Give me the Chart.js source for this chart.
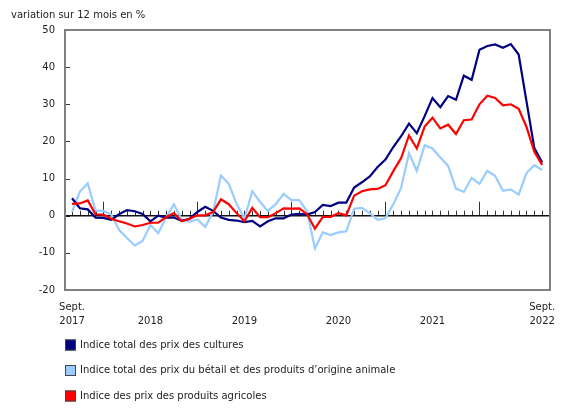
<!DOCTYPE html>
<html>
<head>
<meta charset="utf-8">
<script src="https://cdn.jsdelivr.net/npm/chart.js@4"></script>
<style>
  body { margin: 0; background: #fff; }
  canvas { display: block; }
</style>
</head>
<body>
<canvas id="myChart" width="580" height="410"></canvas>
<script>
// monthly, Sept. 2017 -> Sept. 2022 (61 months)
const startYear = 2017
const startMonth = 8 // september, 0-based

const cultures = [4.7, 2.0, 1.7, -0.5, -0.6, -1.1, 0.4, 1.5, 1.2, 0.5, -1.5, 0.0, -0.5,
  -0.5, -1.4, -0.8, 1.0, 2.4, 1.3, -0.5, -1.1, -1.3, -1.7, -1.4, -2.9, -1.5, -0.7, -0.7,
  0.3, 0.5, 0.3, 1.0, 2.9, 2.6, 3.5, 3.5, 7.6, 9.0, 10.6, 13.1, 15.1, 18.5, 21.4, 24.8,
  22.2, 26.8, 31.7, 29.2, 32.2, 31.2, 37.7, 36.6, 44.7, 45.7, 46.1, 45.2, 46.2, 43.4,
  30.8, 18.2, 14.3]

const livestock = [1.0, 6.5, 8.7, 1.3, 1.3, 0.3, -3.8, -6.0, -8.0, -6.8, -2.5, -4.7, -0.5,
  3.1, -1.1, -1.6, -1.0, -3.0, 1.0, 10.8, 8.6, 3.2, -0.8, 6.6, 3.7, 1.3, 3.1, 5.9, 4.2,
  4.2, 1.2, -8.8, -4.5, -5.2, -4.5, -4.2, 1.9, 2.1, 0.7, -1.1, -0.7, 3.1, 7.5, 16.8, 12.1,
  19.0, 18.1, 15.7, 13.4, 7.3, 6.4, 10.2, 8.6, 12.1, 10.7, 6.7, 7.1, 5.7, 11.5, 13.6, 12.3]

const agricultural = [3.2, 3.3, 4.1, 0.4, 0.3, -0.8, -1.5, -2.1, -2.9, -2.5, -1.9, -1.9,
  -0.4, 0.7, -1.5, -0.8, 0.1, 0.1, 1.0, 4.4, 3.1, 0.7, -1.5, 2.1, -0.4, -0.4, 0.7, 2.0,
  1.9, 2.0, 0.4, -3.5, -0.3, -0.3, 0.7, 0.1, 5.4, 6.6, 7.1, 7.2, 8.2, 12.0, 15.5, 21.6,
  18.1, 24.0, 26.4, 23.5, 24.5, 22.0, 25.7, 25.9, 30.0, 32.3, 31.7, 29.7, 30.0, 28.8,
  23.9, 17.2, 13.7]

const seriesNames = [
  'Indice total des prix des cultures',
  'Indice total des prix du bétail et des produits d’origine animale',
  'Indice des prix des produits agricoles'
]
const seriesColors = ['#000080', '#99ccff', '#ff0000']

// x tick labels: month index -> text lines
const xTickIndex = [0, 10, 22, 34, 46, 60]
const xTickText = [['Sept.', '2017'], ['', '2018'], ['', '2019'], ['', '2020'], ['', '2021'], ['Sept.', '2022']]

const yTitle = 'variation sur 12 mois en %'

const font = '10px "DejaVu Sans", Verdana, sans-serif'
const textColor = '#222'

function toPoints(arr) {
  return arr.map((v, i) => ({ x: i, y: v }))
}

// frame, zero line and monthly ticks
const decorations = {
  id: 'decorations',
  beforeDatasetsDraw(chart) {
    const { ctx, chartArea: a, scales: { x, y } } = chart
    const y0 = y.getPixelForValue(0)
    ctx.save()
    ctx.strokeStyle = '#333'
    ctx.lineWidth = 1
    for (let i = 0; i < cultures.length; i++) {
      const px = Math.round(x.getPixelForValue(i)) + 0.5
      const month = (startMonth + i) % 12
      const h = month === 0 ? 14 : 5
      ctx.beginPath()
      ctx.moveTo(px, y0)
      ctx.lineTo(px, y0 - h)
      ctx.stroke()
    }
    // inward y ticks
    y.ticks.forEach(t => {
      const py = Math.round(y.getPixelForValue(t.value)) + 0.5
      ctx.beginPath()
      ctx.moveTo(a.left, py)
      ctx.lineTo(a.left + 5, py)
      ctx.stroke()
    })
    // zero line
    ctx.strokeStyle = '#111'
    ctx.lineWidth = 1.5
    ctx.beginPath()
    ctx.moveTo(a.left, y0)
    ctx.lineTo(a.right, y0)
    ctx.stroke()
    // frame
    ctx.strokeStyle = '#808080'
    ctx.lineWidth = 2
    ctx.strokeRect(a.left, a.top, a.right - a.left, a.bottom - a.top)
    ctx.restore()
  },
  afterDraw(chart) {
    const { ctx } = chart
    ctx.save()
    ctx.font = font
    ctx.fillStyle = textColor
    ctx.textBaseline = 'middle'
    ctx.textAlign = 'left'
    ctx.fillText(yTitle, 11, 15)
    // legend
    const rows = [345, 370.5, 396]
    seriesNames.forEach((name, k) => {
      const cy = rows[k]
      ctx.fillStyle = seriesColors[k]
      ctx.fillRect(65, cy - 5.5, 11, 11)
      ctx.strokeStyle = '#444'
      ctx.lineWidth = 1
      ctx.strokeRect(65.5, cy - 5, 10, 10)
      ctx.fillStyle = textColor
      ctx.fillText(name, 80, cy)
    })
    ctx.restore()
  }
}

const ctx = document.getElementById('myChart')

new Chart(ctx, {
  type: 'line',
  data: {
    datasets: [
      { label: seriesNames[0], data: toPoints(cultures), borderColor: seriesColors[0], order: 1 },
      { label: seriesNames[1], data: toPoints(livestock), borderColor: seriesColors[1], order: 2 },
      { label: seriesNames[2], data: toPoints(agricultural), borderColor: seriesColors[2], order: 0 }
    ]
  },
  options: {
    responsive: false,
    animation: false,
    layout: { padding: { top: 30, right: 30, left: 0, bottom: 0 } },
    elements: {
      line: { borderWidth: 2.2, tension: 0, fill: false },
      point: { radius: 0 }
    },
    plugins: {
      legend: { display: false },
      tooltip: { enabled: false }
    },
    scales: {
      x: {
        type: 'linear',
        min: -0.9,
        max: 61,
        border: { display: false },
        grid: { display: false, drawTicks: false },
        afterFit: (s) => { s.height = 120 },
        afterBuildTicks: (s) => { s.ticks = xTickIndex.map(v => ({ value: v })) },
        ticks: {
          autoSkip: false,
          maxRotation: 0,
          padding: 11,
          color: textColor,
          font: { family: '"DejaVu Sans", Verdana, sans-serif', size: 10, lineHeight: 1.33 },
          callback: (v) => {
            const k = xTickIndex.indexOf(v)
            return k >= 0 ? xTickText[k] : ''
          }
        }
      },
      y: {
        min: -20,
        max: 50,
        border: { display: false },
        grid: { display: false, drawTicks: false },
        afterFit: (s) => { s.width = 65 },
        ticks: {
          stepSize: 10,
          padding: 10,
          color: textColor,
          font: { family: '"DejaVu Sans", Verdana, sans-serif', size: 10 }
        }
      }
    }
  },
  plugins: [decorations]
})
</script>
</body>
</html>
